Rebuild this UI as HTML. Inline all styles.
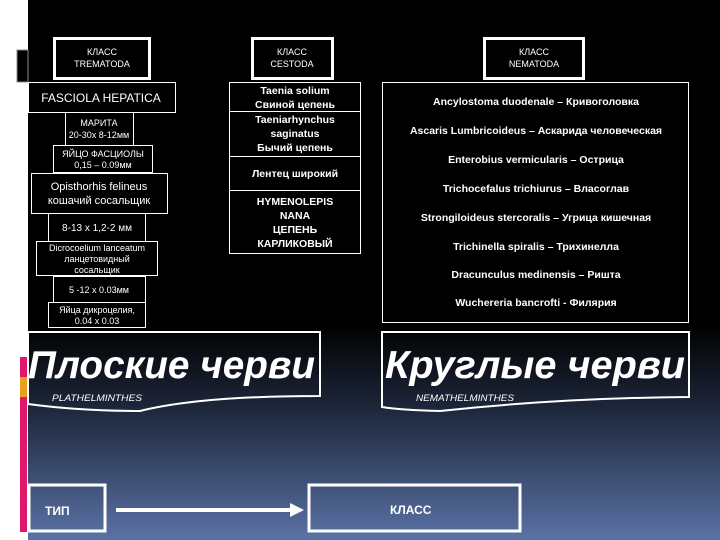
<!DOCTYPE html>
<html><head><meta charset="utf-8"><style>
html,body{margin:0;padding:0}
body{width:720px;height:540px;position:relative;overflow:hidden;background:#fff;font-family:"Liberation Sans","DejaVu Sans",sans-serif}
</style></head><body>
<svg width="720" height="540" viewBox="0 0 720 540" xmlns="http://www.w3.org/2000/svg" style="position:absolute;left:0;top:0" font-family="Liberation Sans, DejaVu Sans, sans-serif">
<defs>
<linearGradient id="bg" x1="0" y1="0" x2="0" y2="1">
<stop offset="0" stop-color="#000"/>
<stop offset="0.6" stop-color="#000"/>
<stop offset="0.75" stop-color="#1c2538"/>
<stop offset="1" stop-color="#5a72a6"/>
</linearGradient>
</defs>
<rect x="0" y="0" width="720" height="540" fill="#fff"/>
<rect x="28" y="0" width="692" height="540" fill="url(#bg)"/>
<rect x="17" y="50" width="11" height="32" fill="#000" stroke="#888" stroke-width="1"/>
<rect x="20" y="357" width="7" height="175" fill="#e0186c"/>
<rect x="20" y="377" width="7" height="20" fill="#e8a020"/>

<g fill="none" stroke="#fff">
<rect x="54.5" y="38.5" width="95" height="40" stroke-width="3"/>
<rect x="252.5" y="38.5" width="80" height="40" stroke-width="3"/>
<rect x="484.5" y="38.5" width="99" height="40" stroke-width="3"/>
<rect x="28.5" y="82.5" width="147" height="30" stroke-width="1"/>
<rect x="65.5" y="112.5" width="68" height="33" stroke-width="1"/>
<rect x="53.5" y="145.5" width="99" height="27" stroke-width="1"/>
<rect x="31.5" y="173.5" width="136" height="40" stroke-width="1"/>
<rect x="48.5" y="213.5" width="97" height="28" stroke-width="1"/>
<rect x="36.5" y="241.5" width="121" height="34" stroke-width="1"/>
<rect x="53.5" y="276.5" width="92" height="26" stroke-width="1"/>
<rect x="48.5" y="302.5" width="97" height="25" stroke-width="1"/>
<rect x="229.5" y="82.5" width="131" height="171" stroke-width="1"/>
<line x1="229" y1="111.5" x2="360" y2="111.5" stroke-width="1"/>
<line x1="229" y1="156.5" x2="360" y2="156.5" stroke-width="1"/>
<line x1="229" y1="190.5" x2="360" y2="190.5" stroke-width="1"/>
<rect x="382.5" y="82.5" width="306" height="240" stroke-width="1"/>
<path d="M28 332 H320 V396 Q200 396 140 411 Q80 411 28 404 Z" stroke-width="2"/>
<path d="M382 332 H689 V397 Q560 398 440 411 Q400 410 382 407 Z" stroke-width="2"/>
<rect x="29" y="485" width="76" height="46" stroke-width="3"/>
<rect x="309" y="485" width="211" height="46" stroke-width="3"/>
<line x1="116" y1="510" x2="292" y2="510" stroke-width="4"/>
</g>
<polygon points="290,503 304,510 290,517" fill="#fff"/>

<g fill="#fff" font-size="9" text-anchor="middle">
<text x="102" y="55">КЛАСС</text><text x="102" y="67">TREMATODA</text>
<text x="292" y="55">КЛАСС</text><text x="292" y="67">CESTODA</text>
<text x="534" y="55">КЛАСС</text><text x="534" y="67">NEMATODA</text>
<text x="101" y="102" font-size="12">FASCIOLA HEPATICA</text>
<text x="99" y="126">МАРИТА</text><text x="99" y="138">20-30х 8-12мм</text>
<text x="103" y="157">ЯЙЦО ФАСЦИОЛЫ</text><text x="103" y="168">0,15 – 0.09мм</text>
<text x="99" y="190" font-size="11">Opisthorhis felineus</text><text x="99" y="204" font-size="11">кошачий сосальщик</text>
<text x="97" y="231" font-size="10">8-13 х 1,2-2 мм</text>
<text x="97" y="251">Dicrocoelium lanceatum</text><text x="97" y="262">ланцетовидный</text><text x="97" y="273">сосальщик</text>
<text x="99" y="293">5 -12 х 0.03мм</text>
<text x="97" y="313">Яйца дикроцелия,</text><text x="97" y="324">0.04 х 0.03</text>
</g>
<g fill="#fff" font-size="10.5" font-weight="bold" text-anchor="middle">
<text x="295" y="94">Taenia solium</text><text x="295" y="108">Свиной цепень</text>
<text x="295" y="123">Taeniarhynchus</text><text x="295" y="137">saginatus</text><text x="295" y="151">Бычий цепень</text>
<text x="295" y="177">Лентец широкий</text>
<text x="295" y="205">HYMENOLEPIS</text><text x="295" y="219">NANA</text><text x="295" y="233">ЦЕПЕНЬ</text><text x="295" y="247">КАРЛИКОВЫЙ</text>
</g>
<g fill="#fff" font-size="10.5" font-weight="bold" text-anchor="middle">
<text x="536" y="105">Ancylostoma duodenale – Кривоголовка</text>
<text x="536" y="134">Ascaris Lumbricoideus – Аскарида человеческая</text>
<text x="536" y="163">Enterobius vermicularis – Острица</text>
<text x="536" y="192">Trichocefalus trichiurus – Власоглав</text>
<text x="536" y="221">Strongiloideus stercoralis – Угрица кишечная</text>
<text x="536" y="250">Trichinella spiralis – Трихинелла</text>
<text x="536" y="278">Dracunculus medinensis – Ришта</text>
<text x="536" y="306">Wuchereria bancrofti - Филярия</text>
</g>
<g fill="#fff" font-weight="bold" font-style="italic">
<text x="28" y="378" font-size="39" textLength="287" lengthAdjust="spacingAndGlyphs">Плоские черви</text>
<text x="385" y="378" font-size="39" textLength="300" lengthAdjust="spacingAndGlyphs">Круглые черви</text>
</g>
<g fill="#fff" font-style="italic" font-size="9">
<text x="52" y="401" textLength="90" lengthAdjust="spacingAndGlyphs">PLATHELMINTHES</text>
<text x="416" y="401" textLength="98" lengthAdjust="spacingAndGlyphs">NEMATHELMINTHES</text>
</g>
<g fill="#fff" font-size="12" font-weight="bold">
<text x="45" y="515">ТИП</text>
<text x="390" y="514">КЛАСС</text>
</g>
</svg>
</body></html>
